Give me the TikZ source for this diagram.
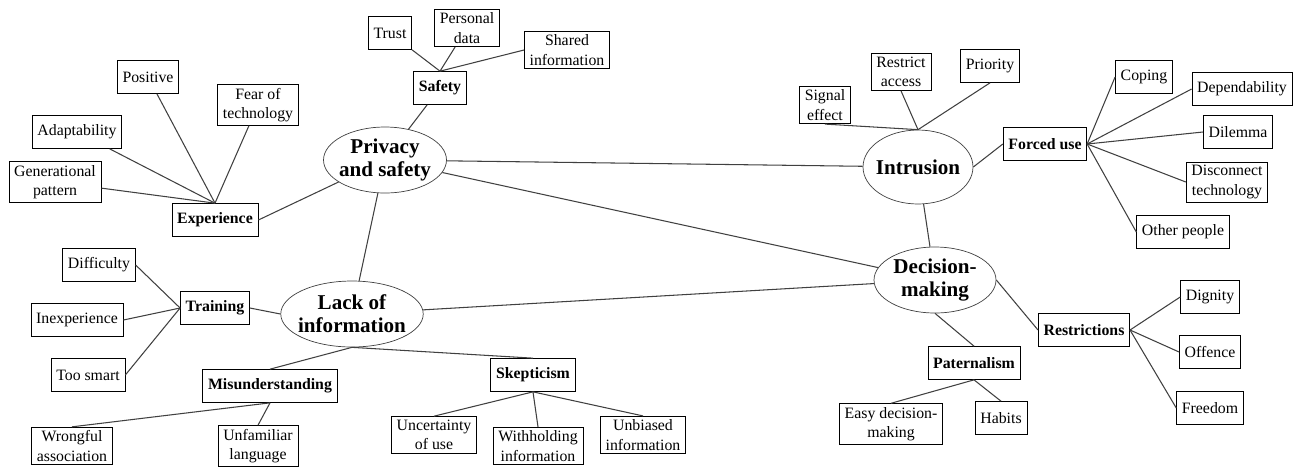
\documentclass[tikz,border=0pt]{standalone}
\usepackage{fontspec}
\setmainfont{Liberation Serif}
\usetikzlibrary{shapes.geometric}

\tikzset{
  leaf/.style={draw, thin, align=center, font=\fontsize{9}{11}\selectfont,
    inner xsep=3pt, inner ysep=2pt, minimum height=0.66cm},
  branch/.style={leaf, font=\fontsize{9}{11}\selectfont\bfseries},
  core/.style={draw=black!75, thin, ellipse, align=center,
    font=\fontsize{12}{13}\selectfont\bfseries, inner xsep=-2pt, inner ysep=1pt,
    minimum width=2.2cm, minimum height=1.32cm},
  link/.style={draw=black!75, line width=0.6pt}
}

\begin{document}
\begin{tikzpicture}[x=0.02cm, y=-0.02cm]

        % 1. Area of the picture
        \useasboundingbox (0,0) rectangle (1299,468);

        % 2. The four central themes
        \node[core, minimum width=2.46cm] (priv) at (385,160) {Privacy\\and safety};
        \node[core, minimum height=1.48cm] (intr) at (918,167) {Intrusion};
        \node[core, minimum width=2.44cm] (dec) at (935,280) {Decision-\\making};
        \node[core] (lack) at (352,314) {Lack of\\information};

        % 3. Sub-themes
        \node[branch] (exp) at (215,220) {Experience};
        \node[branch] (saf) at (440,88) {Safety};
        \node[branch] (forced) at (1045,144) {Forced use};
        \node[branch] (restr) at (1084,330) {Restrictions};
        \node[branch] (pat) at (974,363) {Paternalism};
        \node[branch] (train) at (215,308) {Training};
        \node[branch] (mis) at (270,386) {Misunderstanding};
        \node[branch] (skep) at (533,375) {Skepticism};

        % 4. Codes around Experience and Safety
        \node[leaf] (gen) at (55,182) {Generational\\pattern};
        \node[leaf] (adapt) at (77,132) {Adaptability};
        \node[leaf] (pos) at (148,77) {Positive};
        \node[leaf] (fear) at (258,105) {Fear of\\technology};
        \node[leaf] (trust) at (390,33) {Trust};
        \node[leaf] (pdata) at (467,28) {Personal\\data};
        \node[leaf] (shared) at (567,50) {Shared\\information};

        % 5. Codes around Intrusion and Forced use
        \node[leaf] (sig) at (825,105) {Signal\\effect};
        \node[leaf] (rac) at (901,72) {Restrict\\access};
        \node[leaf] (prio) at (990,66) {Priority};
        \node[leaf] (coping) at (1144,77) {Coping};
        \node[leaf] (depend) at (1242,89) {Dependability};
        \node[leaf] (dilem) at (1238,132) {Dilemma};
        \node[leaf] (disc) at (1227,182) {Disconnect\\technology};
        \node[leaf] (other) at (1183,232) {Other people};

        % 6. Codes around Decision-making
        \node[leaf] (dign) at (1210,297) {Dignity};
        \node[leaf] (off) at (1210,352) {Offence};
        \node[leaf] (free) at (1210,408) {Freedom};
        \node[leaf] (easy) at (891,424) {Easy decision-\\making};
        \node[leaf] (hab) at (1001,418) {Habits};

        % 7. Codes around Lack of information
        \node[leaf] (diff) at (99,265) {Difficulty};
        \node[leaf] (inexp) at (77,320) {Inexperience};
        \node[leaf] (smart) at (88,375) {Too smart};
        \node[leaf] (wrong) at (72,446) {Wrongful\\association};
        \node[leaf] (unfam) at (258,446) {Unfamiliar\\language};
        \node[leaf] (unc) at (434,435) {Uncertainty\\of use};
        \node[leaf] (with) at (538,446) {Withholding\\information};
        \node[leaf] (unb) at (643,435) {Unbiased\\information};

        % 8. Links between the themes
        \path[link] (priv) -- (intr);
        \path[link] (priv) -- (dec);
        \path[link] (priv) -- (lack);
        \path[link] (intr) -- (dec);
        \path[link] (lack) -- (dec);

        % 9. Links from themes to sub-themes and codes
        \path[link] (exp.east) -- (priv);
        \path[link] (saf) -- (priv);
        \path[link] (intr.east) -- (forced.west);
        \path[link] (dec.east) -- (restr.west);
        \path[link] (dec.south) -- (pat.north);
        \path[link] (lack.west) -- (train.east);
        \path[link] (lack.south) -- (mis.north);
        \path[link] (lack.south) -- (skep.north);

        \path[link] (gen) -- (exp.north);
        \path[link] (adapt) -- (exp.north);
        \path[link] (pos) -- (exp.north);
        \path[link] (fear) -- (exp.north);
        \path[link] (trust) -- (saf.north);
        \path[link] (pdata) -- (saf.north);
        \path[link] (shared.west) -- (saf.north);

        \path[link] (sig.south) -- (intr.north);
        \path[link] (rac.south) -- (intr.north);
        \path[link] (prio.south) -- (intr.north);
        \path[link] (forced.east) -- (coping.west);
        \path[link] (forced.east) -- (depend.west);
        \path[link] (forced.east) -- (dilem.west);
        \path[link] (forced.east) -- (disc.west);
        \path[link] (forced.east) -- (other.west);

        \path[link] (restr.east) -- (dign.west);
        \path[link] (restr.east) -- (off.west);
        \path[link] (restr.east) -- (free.west);
        \path[link] (pat.south) -- (easy.north);
        \path[link] (pat.south) -- (hab.north);

        \path[link] (train.west) -- (diff.east);
        \path[link] (train.west) -- (inexp.east);
        \path[link] (train.west) -- (smart.east);
        \path[link] (mis.south) -- (wrong.north);
        \path[link] (mis.south) -- (unfam.north);
        \path[link] (skep.south) -- (unc.north);
        \path[link] (skep.south) -- (with.north);
        \path[link] (skep.south) -- (unb.north);

    \end{tikzpicture}
\end{document}
